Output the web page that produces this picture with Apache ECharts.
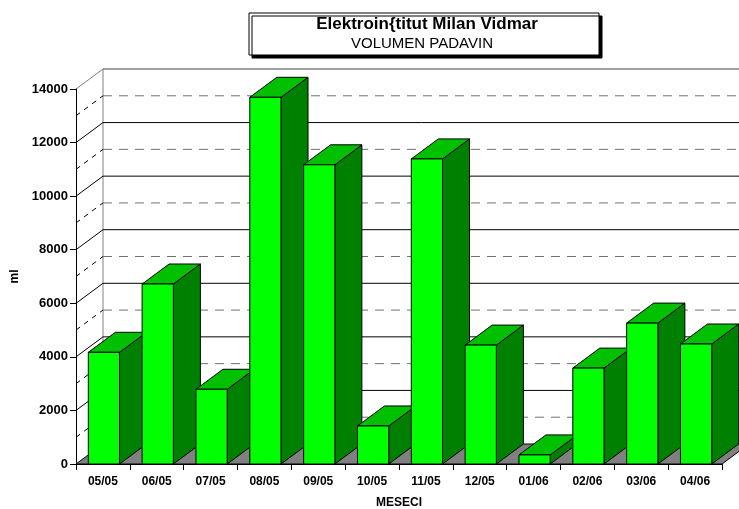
<!DOCTYPE html>
<html>
<head>
<meta charset="utf-8">
<script src="https://cdn.jsdelivr.net/npm/echarts@6/dist/echarts.min.js"></script>
<style>
html, body { margin: 0; padding: 0; background: #ffffff; }
#chart { width: 739px; height: 509px; }
</style>
</head>
<body>
<div id="chart"></div>
<script>
// Monthly precipitation volume (ml)
const months = ['05/05', '06/05', '07/05', '08/05', '09/05', '10/05', '11/05', '12/05', '01/06', '02/06', '03/06', '04/06'];
const volumes = [4170, 6720, 2790, 13690, 11170, 1420, 11390, 4440, 340, 3580, 5260, 4480];
// Wall lines every 1000 ml; the even thousands carry labels
const wallLevels = [0, 1000, 2000, 3000, 4000, 5000, 6000, 7000, 8000, 9000, 10000, 11000, 12000, 13000, 14000];
const yMax = 14000;
const yStep = 2000;

// Perspective offset of the back wall (pixels)
const DX = 27, DY = 20;
const FONT = 'Liberation Sans, Arial, sans-serif';

const chart = echarts.init(document.getElementById('chart'), null, { renderer: 'canvas' });

function renderWall(params, api) {
  const cs = params.coordSys;
  const v = api.value(1);
  const y = api.coord([0, v])[1];
  const x0 = cs.x, x1 = cs.x + cs.width;
  const isMajor = v % yStep === 0;
  const isTop = v === yMax;
  const children = [];
  if (v === 0) {
    children.push({
      type: 'polygon',
      shape: { points: [[x0, y], [x1, y], [x1 + DX, y - DY], [x0 + DX, y - DY]] },
      style: { fill: '#808080', stroke: '#000000', lineWidth: 1 }
    });
    // left edge of the back wall
    const yTop = api.coord([0, yMax])[1];
    children.push({
      type: 'line',
      shape: { x1: x0 + DX, y1: yTop - DY, x2: x0 + DX, y2: y - DY },
      style: { stroke: '#808080', lineWidth: 1 }
    });
    return { type: 'group', children: children };
  }
  const color = isTop ? '#808080' : '#000000';
  children.push({
    type: 'line',
    shape: { x1: x0, y1: y, x2: x0 + DX, y2: y - DY },
    style: { stroke: color, lineWidth: 1, lineDash: isMajor ? null : [5, 5] }
  });
  children.push({
    type: 'line',
    shape: { x1: x0 + DX, y1: y - DY, x2: x1 + DX + 20, y2: y - DY },
    style: {
      stroke: isMajor ? color : '#707070',
      lineWidth: isTop ? 1.5 : 1,
      lineDash: isMajor ? null : [9, 7]
    }
  });
  return { type: 'group', children: children };
}

function renderBar(params, api) {
  const idx = api.value(0);
  const top = api.coord([idx, api.value(1)]);
  const base = api.coord([idx, 0]);
  const band = api.size([1, 0])[0];
  const w = band * 0.58;
  const xl = top[0] - w / 2 + 1;
  const xr = xl + w;
  const yt = top[1], yb = base[1];
  const edge = { stroke: '#000000', lineWidth: 1 };
  return {
    type: 'group',
    children: [
      {
        type: 'polygon',
        shape: { points: [[xr, yt], [xr + DX, yt - DY], [xr + DX, yb - DY], [xr, yb]] },
        style: Object.assign({ fill: '#008000' }, edge)
      },
      {
        type: 'polygon',
        shape: { points: [[xl, yt], [xl + DX, yt - DY], [xr + DX, yt - DY], [xr, yt]] },
        style: Object.assign({ fill: '#00c000' }, edge)
      },
      {
        type: 'polygon',
        shape: { points: [[xl, yt], [xr, yt], [xr, yb], [xl, yb]] },
        style: Object.assign({ fill: '#00ff00' }, edge)
      }
    ]
  };
}

const option = {
  animation: false,
  backgroundColor: '#ffffff',
  grid: { left: 76, right: 17, top: 89, bottom: 45, outerBoundsMode: 'none', containLabel: false },
  graphic: [
    {
      type: 'rect',
      shape: { x: 249, y: 13, width: 350, height: 42 },
      style: {
        fill: '#ffffff', stroke: '#000000', lineWidth: 1,
        shadowColor: '#000000', shadowOffsetX: 3, shadowOffsetY: 3, shadowBlur: 0
      },
      z: 10
    },
    {
      type: 'text',
      x: 427, y: 24,
      style: {
        text: 'Elektroin{titut Milan Vidmar',
        font: 'bold 17px ' + FONT,
        fill: '#000000', align: 'center', verticalAlign: 'middle'
      },
      z: 11
    },
    {
      type: 'text',
      x: 422, y: 44,
      style: {
        text: 'VOLUMEN PADAVIN',
        font: '15px ' + FONT,
        fill: '#000000', align: 'center', verticalAlign: 'middle'
      },
      z: 11
    }
  ],
  xAxis: {
    type: 'category',
    data: months,
    boundaryGap: true,
    name: 'MESECI',
    nameLocation: 'middle',
    nameGap: 33,
    nameTextStyle: { fontFamily: FONT, fontWeight: 'bold', fontSize: 12, color: '#000000' },
    axisLine: { show: true, lineStyle: { color: '#000000', width: 1 } },
    axisTick: { show: true, length: 6, lineStyle: { color: '#000000' } },
    axisLabel: { margin: 12, fontFamily: FONT, fontWeight: 'bold', fontSize: 12, color: '#000000' },
    splitLine: { show: false },
    z: 5
  },
  yAxis: {
    type: 'value',
    min: 0,
    max: yMax,
    interval: yStep,
    name: 'ml',
    nameLocation: 'middle',
    nameGap: 50,
    nameRotate: 90,
    nameTextStyle: { fontFamily: FONT, fontWeight: 'bold', fontSize: 12, color: '#000000' },
    axisLine: { show: true, lineStyle: { color: '#000000', width: 1 } },
    axisTick: { show: true, length: 6, lineStyle: { color: '#000000' } },
    axisLabel: {
      margin: 8, fontFamily: FONT, fontWeight: 'bold', fontSize: 13, color: '#000000',
      formatter: v => String(v)
    },
    splitLine: { show: false },
    z: 5
  },
  series: [
    {
      name: 'wall',
      type: 'custom',
      renderItem: renderWall,
      data: wallLevels.map(v => [0, v]),
      silent: true,
      clip: false,
      z: 1
    },
    {
      name: 'Volumen',
      type: 'custom',
      renderItem: renderBar,
      data: volumes.map((v, i) => [i, v]),
      clip: false,
      z: 3
    }
  ]
};

chart.setOption(option);
</script>
</body>
</html>
